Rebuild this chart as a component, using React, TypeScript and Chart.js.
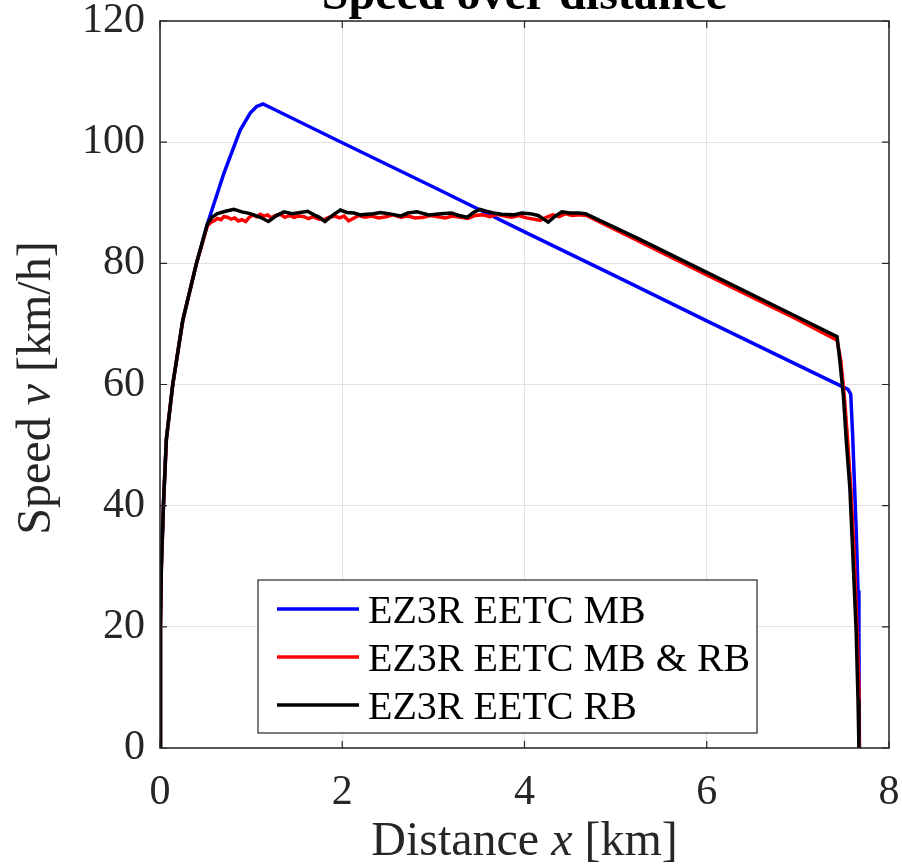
import React, { useEffect, useRef } from 'react';
import { Chart, registerables } from 'chart.js';

Chart.register(...registerables);

const FONT = '"Liberation Serif", "Times New Roman", serif';

const TITLE = 'Speed over distance';
const X_LABEL = ['Distance ', 'x', ' [km]'];
const Y_LABEL = ['Speed ', 'v', ' [km/h]'];
const LEGEND_LABELS = ['EZ3R EETC MB', 'EZ3R EETC MB & RB', 'EZ3R EETC RB'];
const COLORS = ['#0000ff', '#ff0000', '#000000'];

const X_TICKS = [0, 2, 4, 6, 8];
const Y_TICKS = [0, 20, 40, 60, 80, 100, 120];

// EZ3R EETC MB
const mbX = [0, 0.005, 0.015, 0.04, 0.07, 0.14, 0.25, 0.4, 0.52, 0.6, 0.7, 0.77, 0.88, 0.99, 1.06, 1.13, 1.2, 2.0, 3.0, 4.0, 5.0, 6.0, 7.0, 7.55, 7.58, 7.6, 7.62, 7.64, 7.66, 7.67, 7.675];
const mbV = [0, 20, 30, 41, 51, 60, 70.6, 80, 86.5, 90.2, 94.8, 97.6, 102, 104.8, 105.9, 106.3, 105.8, 99.9, 92.6, 85.2, 77.9, 70.5, 63.2, 59.2, 58.4, 52, 44, 36, 26, 19, 0];

// EZ3R EETC MB & RB
const mbrbX = [0, 0.005, 0.015, 0.04, 0.07, 0.14, 0.25, 0.4, 0.52,
  0.56, 0.59, 0.63, 0.67, 0.7, 0.74, 0.78, 0.82, 0.86, 0.9,
  0.94, 0.98, 1.02, 1.06, 1.1, 1.14, 1.18, 1.22, 1.27, 1.32,
  1.37, 1.42, 1.47, 1.52, 1.58, 1.63, 1.68, 1.74, 1.8, 1.86,
  1.92, 1.97, 2.02, 2.07, 2.12, 2.18, 2.25, 2.32, 2.4, 2.48,
  2.56, 2.64, 2.72, 2.8, 2.89, 2.97, 3.05, 3.13, 3.21, 3.3,
  3.38, 3.46, 3.54, 3.62, 3.7, 3.78, 3.86, 3.94, 4.02, 4.1,
  4.17, 4.24, 4.31, 4.38, 4.45, 4.52, 4.6, 4.68,
  5.26, 6.0, 7.0,
  7.43, 7.47, 7.51, 7.545, 7.58, 7.615, 7.65, 7.67, 7.675];
const mbrbV = [0, 20, 30, 41, 51, 60, 70.6, 80, 86.2,
  86.8, 87.0, 87.4, 87.2, 87.7, 87.6, 87.3, 87.5, 87.0, 87.2,
  86.9, 87.6, 88.0, 87.7, 88.1, 87.8, 88.0, 87.5, 87.9, 88.1,
  87.6, 87.9, 87.6, 87.8, 87.7, 87.4, 87.7, 87.3, 87.2, 87.6,
  87.8, 87.5, 87.8, 87.0, 87.4, 87.9, 87.6, 87.8, 87.5, 87.7,
  88.0, 87.6, 87.8, 87.5, 87.6, 87.9, 87.7, 87.5, 87.8, 87.6,
  87.4, 87.9, 88.0, 87.7, 88.1, 87.8, 87.6, 87.9, 87.5, 87.3,
  87.1, 87.6, 88.0, 87.7, 88.2, 87.9, 88.0, 87.9,
  83.6, 78.1, 70.7,
  67.3, 64, 58, 51, 43, 33, 19, 10, 0];

// EZ3R EETC RB
const rbX = [0, 0.005, 0.015, 0.04, 0.07, 0.14, 0.25, 0.4, 0.52,
  0.57, 0.63, 0.72, 0.81, 0.9, 0.99,
  1.1, 1.19, 1.27, 1.36, 1.45, 1.54, 1.62, 1.69, 1.75, 1.81, 1.9, 1.98,
  2.05, 2.13, 2.2, 2.34, 2.42, 2.51, 2.58, 2.64, 2.72, 2.82, 2.95,
  3.08, 3.2, 3.28, 3.37, 3.44, 3.51, 3.58, 3.66, 3.75, 3.88, 3.97,
  4.06, 4.15, 4.26, 4.33, 4.41, 4.5, 4.6, 4.67,
  5.26, 6.0, 7.0,
  7.43, 7.46, 7.5, 7.53, 7.57, 7.6, 7.64, 7.66, 7.67];
const rbV = [0, 20, 30, 41, 51, 60, 70.6, 80, 86.5,
  87.6, 88.2, 88.6, 88.9, 88.5, 88.2,
  87.6, 86.9, 87.8, 88.5, 88.2, 88.4, 88.6, 88.0, 87.6, 86.9, 88.0, 88.8,
  88.4, 88.3, 88.0, 88.2, 88.4, 88.2, 88.0, 87.8, 88.3, 88.5, 88.0,
  88.2, 88.3, 87.9, 87.6, 88.4, 88.9, 88.6, 88.3, 88.1, 88.0, 88.3,
  88.2, 87.9, 86.8, 87.7, 88.5, 88.3, 88.3, 88.2,
  84.0, 78.5, 71.1,
  67.9, 64, 58, 51, 43, 33, 19, 8, 0];

const zip = (xs: number[], ys: number[]) => xs.map((x, i) => ({ x, y: ys[i] }));

function drawMixed(ctx: CanvasRenderingContext2D, parts: string[], size: number, cx: number, cy: number) {
  const fonts = parts.map((_, i) => (i === 1 ? `italic ${size}px ${FONT}` : `${size}px ${FONT}`));
  const widths = parts.map((p, i) => {
    ctx.font = fonts[i];
    return ctx.measureText(p).width;
  });
  const total = widths.reduce((a, b) => a + b, 0);
  let x = cx - total / 2;
  ctx.textAlign = 'left';
  ctx.textBaseline = 'alphabetic';
  parts.forEach((p, i) => {
    ctx.font = fonts[i];
    ctx.fillText(p, x, cy);
    x += widths[i];
  });
}

const zeroPad = (s: any) => {
  s.paddingTop = 0;
  s.paddingBottom = 0;
  s.paddingLeft = 0;
  s.paddingRight = 0;
};

export default function App() {
  const ref = useRef<HTMLCanvasElement>(null);

  useEffect(() => {
    const canvas = ref.current;
    if (!canvas) return;

    const decor = {
      id: 'decor',
      afterDatasetsDraw(chart: any) {
        const { ctx, chartArea } = chart;
        const { left, right, top, bottom } = chartArea;
        const xs = chart.scales.x;
        const ys = chart.scales.y;
        ctx.save();
        ctx.strokeStyle = '#262626';
        ctx.lineWidth = 1.5;
        ctx.strokeRect(left, top, right - left, bottom - top);
        ctx.lineWidth = 1.2;
        ctx.beginPath();
        X_TICKS.forEach((t) => {
          const px = xs.getPixelForValue(t);
          ctx.moveTo(px, bottom);
          ctx.lineTo(px, bottom - 7);
          ctx.moveTo(px, top);
          ctx.lineTo(px, top + 7);
        });
        Y_TICKS.forEach((t) => {
          const py = ys.getPixelForValue(t);
          ctx.moveTo(left, py);
          ctx.lineTo(left + 7, py);
          ctx.moveTo(right, py);
          ctx.lineTo(right - 7, py);
        });
        ctx.stroke();
        ctx.restore();
      },
      afterDraw(chart: any) {
        const { ctx, chartArea } = chart;
        const cx = (chartArea.left + chartArea.right) / 2;
        ctx.save();
        ctx.fillStyle = '#000';
        ctx.font = `bold 48px ${FONT}`;
        ctx.textAlign = 'center';
        ctx.textBaseline = 'alphabetic';
        ctx.fillText(TITLE, cx, 9);

        ctx.fillStyle = '#262626';
        drawMixed(ctx, X_LABEL, 48, cx, 855);

        ctx.save();
        ctx.translate(50, 388);
        ctx.rotate(-Math.PI / 2);
        drawMixed(ctx, Y_LABEL, 48, 0, 0);
        ctx.restore();

        // legend
        const bx = 258, by = 580, bw = 499, bh = 153;
        ctx.fillStyle = '#ffffff';
        ctx.fillRect(bx, by, bw, bh);
        ctx.strokeStyle = '#262626';
        ctx.lineWidth = 1.2;
        ctx.strokeRect(bx, by, bw, bh);
        const rows = [609, 657, 705];
        LEGEND_LABELS.forEach((lab, i) => {
          ctx.strokeStyle = COLORS[i];
          ctx.lineWidth = 3.5;
          ctx.beginPath();
          ctx.moveTo(277, rows[i]);
          ctx.lineTo(359, rows[i]);
          ctx.stroke();
          ctx.fillStyle = '#000';
          ctx.font = `40px ${FONT}`;
          ctx.textAlign = 'left';
          ctx.textBaseline = 'alphabetic';
          ctx.fillText(lab, 368, rows[i] + 14);
        });
        ctx.restore();
      },
    };

    const mkDs = (label: string, data: { x: number; y: number }[], color: string, order: number) => ({
      label,
      data,
      order,
      borderColor: color,
      backgroundColor: color,
      borderWidth: 3.5,
      pointRadius: 0,
      tension: 0,
      fill: false,
    });

    const chart = new Chart(canvas, {
      type: 'line',
      data: {
        datasets: [
          mkDs(LEGEND_LABELS[0], zip(mbX, mbV), COLORS[0], 2),
          mkDs(LEGEND_LABELS[1], zip(mbrbX, mbrbV), COLORS[1], 1),
          mkDs(LEGEND_LABELS[2], zip(rbX, rbV), COLORS[2], 0),
        ],
      },
      options: {
        responsive: false,
        animation: false,
        parsing: false,
        normalized: true,
        layout: { padding: { left: 0, top: 21, right: 13, bottom: 0 } },
        plugins: {
          legend: { display: false },
          title: { display: false },
          tooltip: { enabled: false },
        },
        scales: {
          x: {
            type: 'linear',
            min: 0,
            max: 8,
            afterFit: (s: any) => {
              s.height = 117;
              zeroPad(s);
            },
            afterBuildTicks: (s: any) => {
              s.ticks = X_TICKS.map((v) => ({ value: v }));
            },
            grid: { color: '#e2e2e2', lineWidth: 1, drawTicks: false },
            border: { display: false },
            ticks: {
              color: '#262626',
              font: { family: FONT, size: 42 },
              padding: 20,
              maxRotation: 0,
            },
          },
          y: {
            type: 'linear',
            min: 0,
            max: 120,
            afterFit: (s: any) => {
              s.width = 160;
              zeroPad(s);
            },
            afterBuildTicks: (s: any) => {
              s.ticks = Y_TICKS.map((v) => ({ value: v }));
            },
            grid: { color: '#e2e2e2', lineWidth: 1, drawTicks: false },
            border: { display: false },
            ticks: {
              color: '#262626',
              font: { family: FONT, size: 42 },
              padding: 15,
            },
          },
        },
      },
      plugins: [decor],
    } as any);

    return () => chart.destroy();
  }, []);

  return (
    <div style={{ position: 'fixed', left: 0, top: 0, width: 902, height: 865, background: '#ffffff' }}>
      <canvas ref={ref} width={902} height={865} style={{ width: 902, height: 865, display: 'block' }} />
    </div>
  );
}
